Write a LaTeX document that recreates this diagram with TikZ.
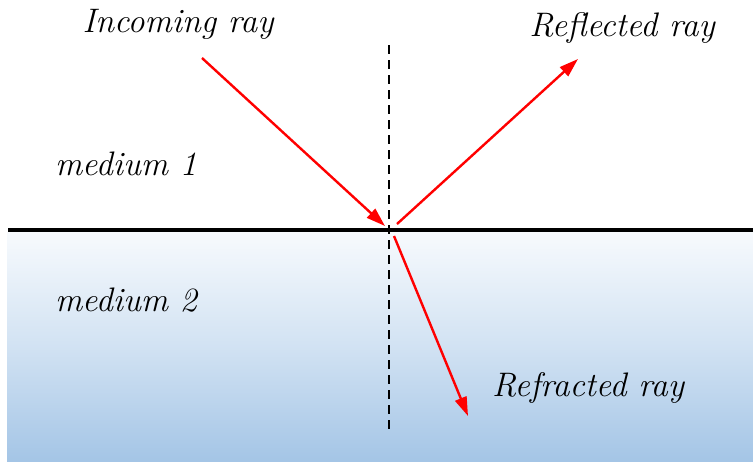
\documentclass[tikz,border=0pt]{standalone}
\usetikzlibrary{arrows.meta}
\definecolor{waterTop}{RGB}{247,250,253}
\definecolor{waterBot}{RGB}{164,197,230}
\begin{document}
\begin{tikzpicture}[x=1pt,y=-1pt,
	every node/.style={font=\rmfamily\itshape\fontsize{34}{36}\selectfont, inner sep=0pt},
	ray/.style={red, line width=2.4pt, -{Triangle[length=19pt,width=12pt]}}]
	\useasboundingbox (0,0) rectangle (753,461);
	% second medium and interface
	\shade[top color=waterTop, bottom color=waterBot, middle color=waterTop!55!waterBot] (7,232) rectangle (753,461);
	\draw[line width=4pt] (8,230) -- (753,230);
	\draw[line width=1.2pt, dash pattern=on 9pt off 6pt] (389,45) -- (389,433);
	% rays
	\coordinate (inStart) at (202,58);
	\coordinate (inEnd) at (385,226);
	\coordinate (reflStart) at (397,224);
	\coordinate (reflEnd) at (578,59);
	\coordinate (refrStart) at (394,236);
	\coordinate (refrEnd) at (468,416);
	\draw[ray] (inStart) -- (inEnd);
	\draw[ray] (reflStart) -- (reflEnd);
	\draw[ray] (refrStart) -- (refrEnd);
	% labels
	\node (inLabel) at (178,24) {Incoming ray};
	\node (reflLabel) at (622,28) {Reflected ray};
	\node (med1) at (126,164) {medium 1};
	\node (med2) at (126,300) {medium 2};
	\node (refrLabel) at (588,388) {Refracted ray};
\end{tikzpicture}
\end{document}
